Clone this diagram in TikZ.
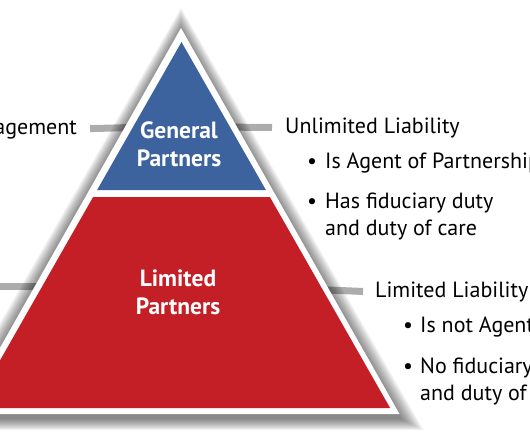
\documentclass[tikz,border=0pt]{standalone}
\usepackage{fontspec}
\setmainfont{PT Sans}
\usetikzlibrary{calc}
\definecolor{gpblue}{RGB}{61,99,158}
\definecolor{lpred}{RGB}{196,30,39}
\definecolor{bargray}{RGB}{172,172,172}

\begin{document}
\begin{tikzpicture}[x=1pt, y=-1pt,
    txt/.style={font=\fontsize{22}{27}\selectfont, inner sep=0pt, anchor=base west, align=left},
    dot/.style={font=\fontsize{22}{27}\selectfont, inner sep=0pt, anchor=base},
    tier/.style={font=\fontsize{23.5}{28}\selectfont\bfseries, text=white, align=center, inner sep=0pt},
    bar/.style={draw=bargray, line width=7pt}]
  \useasboundingbox (0,0) rectangle (530,442);
  \clip (0,0) rectangle (530,442);
  % triangle corners
  \coordinate (top) at (181,28);
  \coordinate (bl) at (-37.5,414);
  \coordinate (br) at (399.5,414);
  % text on the right and left (two-line texts sit on their last line)
  \node[txt] (mg) at (77,134) [anchor=base east] {Management};
  \node[txt] (ul) at (285,133) {Unlimited Liability};
  \node[dot] (d1) at (312,168) {•};
  \node[txt] (ag) at (325,168) {Is Agent of Partnership};
  \node[dot] (d2) at (312,208) {•};
  \node[txt] (fd) at (325,235) {Has fiduciary duty\\and duty of care};
  \node[txt] (ll) at (375,297) {Limited Liability};
  \node[dot] (d3) at (408,332) {•};
  \node[txt] (na) at (420,332) {Is not Agent};
  \node[dot] (d4) at (408,373) {•};
  \node[txt] (nf) at (420,400) {No fiduciary\\and duty of};
  % bars behind the triangle
  \coordinate (gpL) at (150,127);
  \coordinate (gpR) at (212,127);
  \coordinate (lpL) at (70,286.5);
  \coordinate (lpF) at (-5,286.5);
  \coordinate (lpR) at (292,288.5);
  \draw[bar] ([xshift=13pt]mg.east) -- (gpL);
  \draw[bar] (gpR) -- ([xshift=-13pt]ul.west);
  \draw[bar] (lpF) -- (lpL);
  \draw[bar] (lpR) -- ([xshift=-12pt]ll.west);
  % soft shadow
  \foreach \k in {1,...,12}
    \fill[black, opacity=0.05] ($(top)+(0,4-2*\k)$) -- ($(br)+(2*\k,4+\k)$) -- ($(bl)+(-2*\k,4+\k)$) -- cycle;
  % white border and the two tiers
  \fill[white] (top) -- (br) -- (bl) -- cycle;
  \fill[gpblue] (181.5,42) -- (265.9,190) -- (97.1,190) -- cycle;
  \fill[lpred] (93.1,197) -- (269.9,197) -- (390.1,408) -- (-27.1,408) -- cycle;
  \node[tier] (gp) at (179,144) {General\\Partners};
  \node[tier] (lp) at (178,292) {Limited\\Partners};
\end{tikzpicture}
\end{document}
